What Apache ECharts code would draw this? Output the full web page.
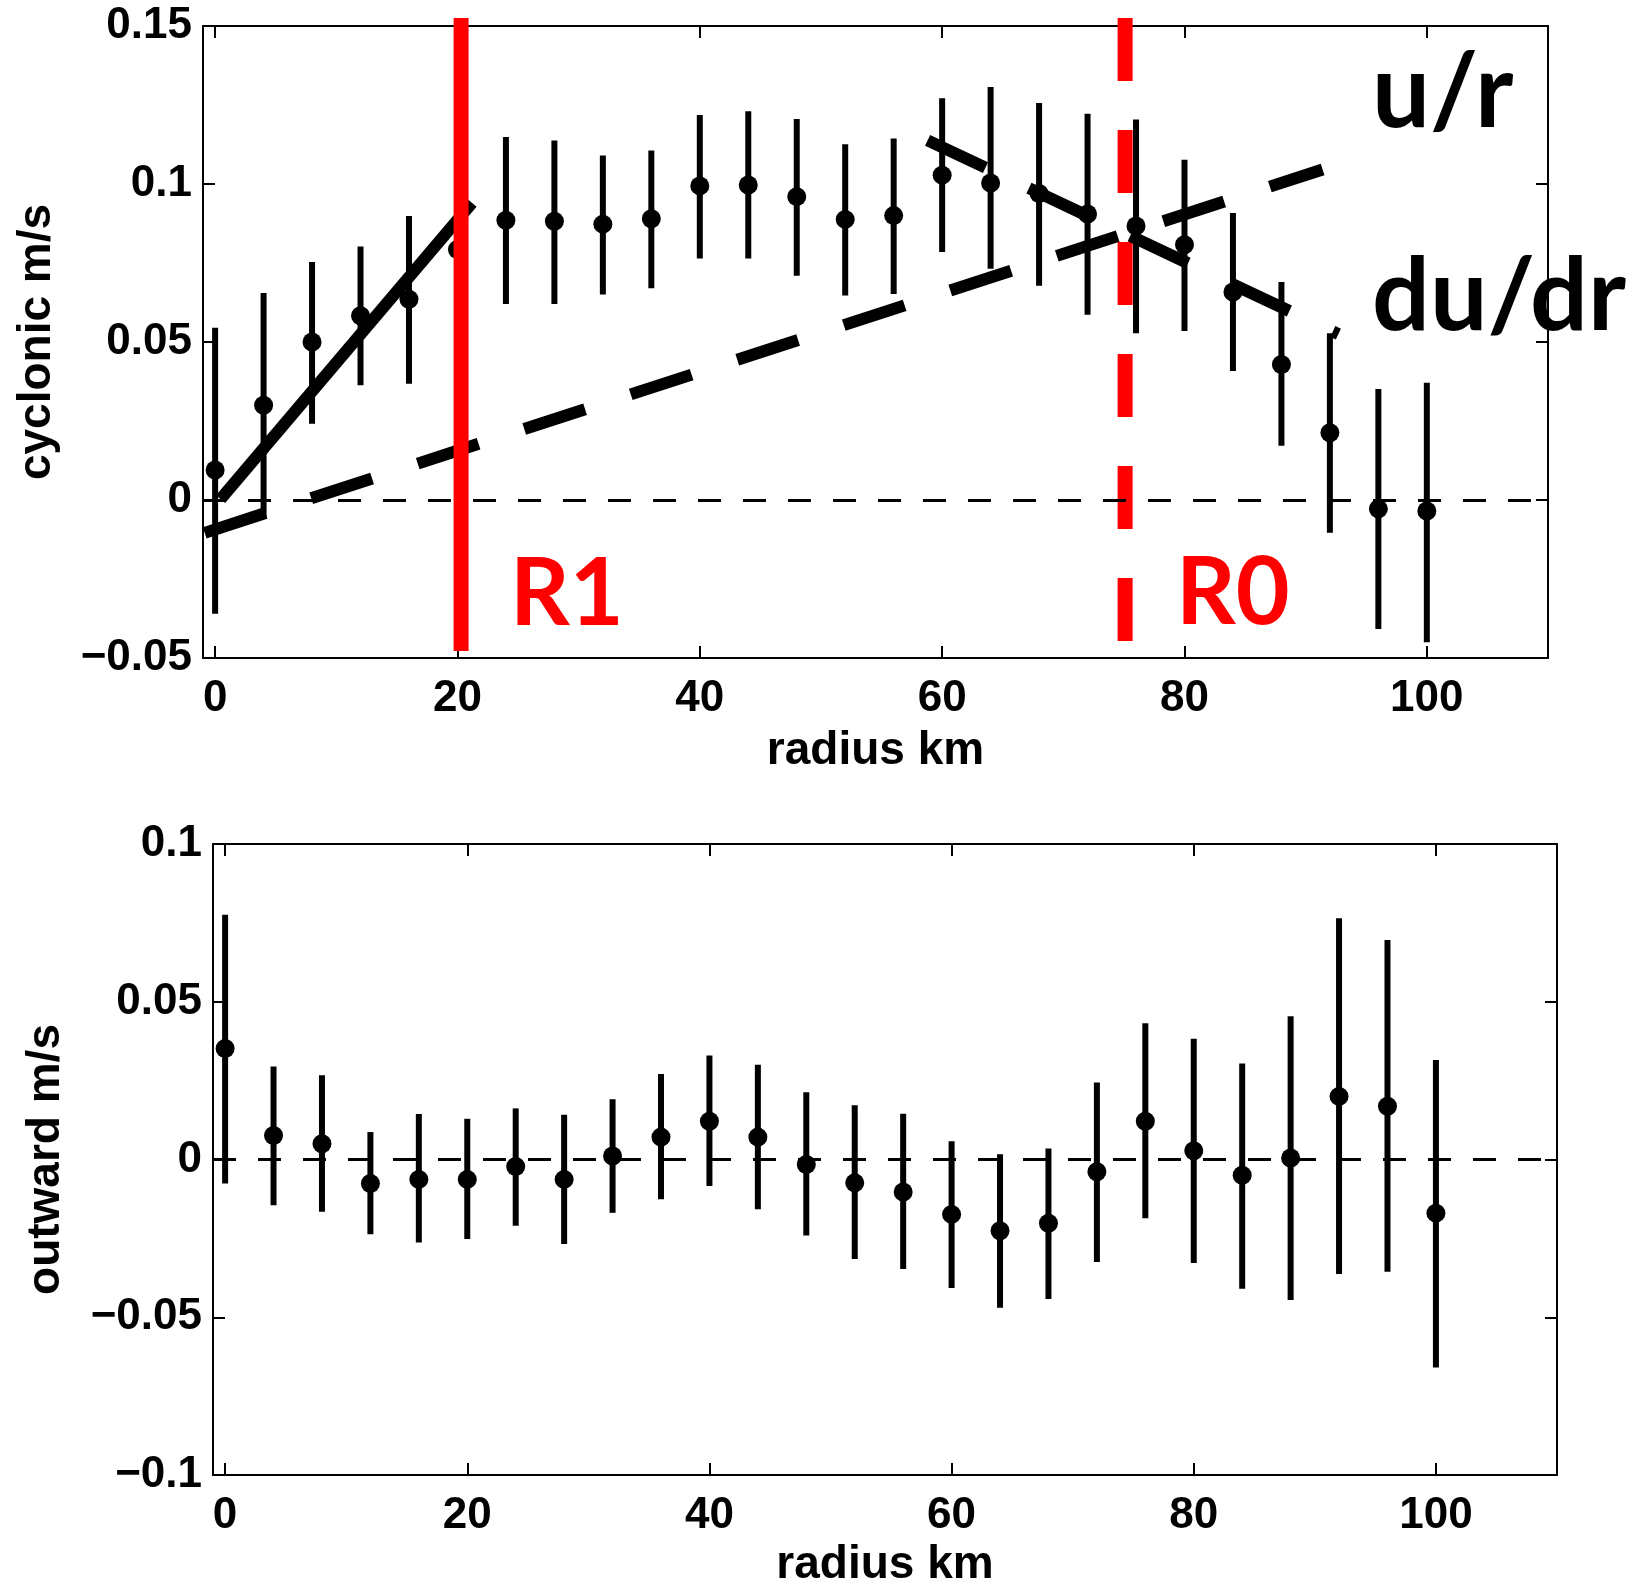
<!DOCTYPE html>
<html>
<head>
<meta charset="utf-8">
<script src="https://cdn.jsdelivr.net/npm/echarts@6/dist/echarts.min.js"></script>
<style>
  html, body { margin: 0; padding: 0; background: #ffffff; }
  #chart { width: 1629px; height: 1583px; }
</style>
</head>
<body>
<div id="chart"></div>
<script>
// Radial profiles: bin centres in km
const radiusKm = [0, 4, 8, 12, 16, 20, 24, 28, 32, 36, 40, 44, 48, 52, 56, 60, 64, 68, 72, 76, 80, 84, 88, 92, 96, 100];

// Cyclonic (azimuthal) velocity, m/s: mean and error-bar limits
const cyclonicMean = [0.0095, 0.0300, 0.0500, 0.0583, 0.0635, 0.0793, 0.0885, 0.0882, 0.0873, 0.0890, 0.0994, 0.0997, 0.0960,
                      0.0888, 0.0900, 0.1028, 0.1003, 0.0970, 0.0905, 0.0867, 0.0808, 0.0658, 0.0429, 0.0213, -0.0028, -0.0035];
const cyclonicLow  = [-0.0360, -0.0055, 0.0241, 0.0363, 0.0368, 0.0543, 0.0620, 0.0620, 0.0650, 0.0670, 0.0764, 0.0764, 0.0710,
                      0.0647, 0.0652, 0.0785, 0.0732, 0.0678, 0.0586, 0.0528, 0.0535, 0.0408, 0.0172, -0.0104, -0.0408, -0.0450];
const cyclonicHigh = [0.0545, 0.0655, 0.0753, 0.0802, 0.0899, 0.1043, 0.1149, 0.1138, 0.1090, 0.1106, 0.1218, 0.1230, 0.1206,
                      0.1126, 0.1144, 0.1271, 0.1307, 0.1256, 0.1222, 0.1204, 0.1077, 0.0908, 0.0690, 0.0528, 0.0351, 0.0371];

// Outward (radial) velocity, m/s: mean and error-bar limits
const outwardMean = [0.0352, 0.0076, 0.0050, -0.0076, -0.0063, -0.0063, -0.0022, -0.0063, 0.0011, 0.0071, 0.0121, 0.0071, -0.0016,
                     -0.0074, -0.0103, -0.0174, -0.0226, -0.0202, -0.0039, 0.0121, 0.0028, -0.0050, 0.0005, 0.0200, 0.0169, -0.0170];
const outwardLow   = [-0.0076, -0.0145, -0.0166, -0.0237, -0.0263, -0.0252, -0.0210, -0.0268, -0.0169, -0.0126, -0.0084, -0.0158, -0.0241,
                      -0.0315, -0.0347, -0.0407, -0.0470, -0.0442, -0.0325, -0.0186, -0.0328, -0.0410, -0.0445, -0.0363, -0.0356, -0.0659];
const outwardHigh  = [0.0776, 0.0295, 0.0267, 0.0087, 0.0144, 0.0129, 0.0162, 0.0142, 0.0191, 0.0271, 0.0330, 0.0300, 0.0213,
                      0.0172, 0.0145, 0.0058, 0.0017, 0.0035, 0.0244, 0.0432, 0.0383, 0.0304, 0.0454, 0.0765, 0.0696, 0.0315];

// Fitted profiles [radius km, m/s]
const innerFit = [[0.45, 0.0003], [21.2, 0.0940]];
const uOverR   = [[-0.86, -0.0104], [91.4, 0.1046]];
const duDr     = [[58.8, 0.1138], [92.7, 0.0525]];

// Characteristic radii (km) and the vertical extent of their markers (m/s)
const radiusR1 = 20.3;
const radiusR0 = 75.1;
const radiusMarkSpan = [0.1525, -0.0478];

// Axis ticks
const xTicks = [0, 20, 40, 60, 80, 100];
const topYTicks = [-0.05, 0, 0.05, 0.1, 0.15];
const bottomYTicks = [-0.1, -0.05, 0, 0.05, 0.1];

const AXIS_FONT = 'Liberation Sans';
const NOTE_FONT = 'Lato';

function fmtTick(v) {
  if (v === 0) return '0';
  return (v < 0 ? '\u2212' : '') + String(Math.abs(v));
}

const tickLabelStyle = { color: '#000', fontFamily: AXIS_FONT, fontWeight: 'bold', fontSize: 44 };
const nameStyle = { color: '#000', fontFamily: AXIS_FONT, fontWeight: 'bold', fontSize: 46 };
const frameLine = { show: true, onZero: false, lineStyle: { color: '#000', width: 2 } };

function xAxisPair(gridIndex, nameGap) {
  const common = {
    gridIndex, type: 'value', min: -1, max: 110,
    axisLine: frameLine,
    splitLine: { show: false },
    axisTick: { show: true, inside: true, length: 12, customValues: xTicks, lineStyle: { color: '#000', width: 2 } }
  };
  return [
    Object.assign({}, common, {
      position: 'bottom',
      axisLabel: { show: true, customValues: xTicks, margin: 19, formatter: fmtTick, ...tickLabelStyle },
      name: 'radius km', nameLocation: 'middle', nameGap, nameTextStyle: nameStyle
    }),
    Object.assign({}, common, { position: 'top', axisLabel: { show: false } })
  ];
}

function yAxisPair(gridIndex, min, max, ticks, name, nameGap) {
  const common = {
    gridIndex, type: 'value', min, max,
    axisLine: frameLine,
    splitLine: { show: false },
    axisTick: { show: true, inside: true, length: 12, customValues: ticks, lineStyle: { color: '#000', width: 2 } }
  };
  return [
    Object.assign({}, common, {
      position: 'left',
      axisLabel: { show: true, customValues: ticks, margin: 11, formatter: fmtTick, ...tickLabelStyle },
      name, nameLocation: 'middle', nameGap, nameRotate: 90, nameTextStyle: nameStyle
    }),
    Object.assign({}, common, { position: 'right', axisLabel: { show: false } })
  ];
}

function errorBarItem(params, api) {
  const x = api.value(0);
  const p1 = api.coord([x, api.value(1)]);
  const p2 = api.coord([x, api.value(2)]);
  return {
    type: 'line',
    shape: { x1: p1[0], y1: p1[1], x2: p2[0], y2: p2[1] },
    style: { stroke: '#000', lineWidth: 6 }
  };
}

function zeroLine() {
  return {
    silent: true, symbol: 'none', label: { show: false },
    lineStyle: { color: '#000', width: 3, type: [23, 22], opacity: 1 },
    data: [{ yAxis: 0 }]
  };
}

function thickLine(points, axisIdx, opts) {
  return Object.assign({
    type: 'line', xAxisIndex: axisIdx, yAxisIndex: axisIdx,
    data: points, showSymbol: false, symbol: 'none', silent: true, animation: false,
    lineStyle: { color: '#000', width: 12, cap: 'butt' }
  }, opts);
}

const cycBars = radiusKm.map((r, i) => [r, cyclonicLow[i], cyclonicHigh[i]]);
const cycPts  = radiusKm.map((r, i) => [r, cyclonicMean[i]]);
const outBars = radiusKm.map((r, i) => [r, outwardLow[i], outwardHigh[i]]);
const outPts  = radiusKm.map((r, i) => [r, outwardMean[i]]);

const dotStyle = { color: '#000', opacity: 1 };

const option = {
  animation: false,
  backgroundColor: '#ffffff',
  grid: [
    { left: 203, top: 26, width: 1345, height: 632, outerBoundsMode: 'none', containLabel: false },
    { left: 213, top: 844, width: 1344, height: 631, outerBoundsMode: 'none', containLabel: false }
  ],
  xAxis: [...xAxisPair(0, 70), ...xAxisPair(1, 67)],
  yAxis: [
    ...yAxisPair(0, -0.05, 0.15, topYTicks, 'cyclonic m/s', 143),
    ...yAxisPair(1, -0.1, 0.1, bottomYTicks, 'outward m/s', 144)
  ],
  series: [
    // upper panel
    {
      type: 'custom', xAxisIndex: 0, yAxisIndex: 0, z: 2,
      renderItem: errorBarItem, encode: { x: 0, y: [1, 2] }, data: cycBars, silent: true
    },
    {
      type: 'scatter', xAxisIndex: 0, yAxisIndex: 0, z: 3,
      symbol: 'circle', symbolSize: 19, itemStyle: dotStyle, data: cycPts, silent: true,
      markLine: zeroLine()
    },
    thickLine([[radiusR0, radiusMarkSpan[0]], [radiusR0, radiusMarkSpan[1]]], 0, {
      z: 2.5, clip: false, lineStyle: { color: '#ff0000', width: 15, type: [63, 49], cap: 'butt' }
    }),
    thickLine(innerFit, 0, { z: 4 }),
    thickLine(uOverR, 0, { z: 4, lineStyle: { color: '#000', width: 12, type: [64, 48], cap: 'butt' } }),
    thickLine(duDr, 0, { z: 4, lineStyle: { color: '#000', width: 12, type: [64, 48], cap: 'butt' } }),
    thickLine([[radiusR1, radiusMarkSpan[0]], [radiusR1, radiusMarkSpan[1]]], 0, {
      z: 5, clip: false, lineStyle: { color: '#ff0000', width: 15, cap: 'butt' }
    }),
    // lower panel
    {
      type: 'custom', xAxisIndex: 2, yAxisIndex: 2, z: 2,
      renderItem: errorBarItem, encode: { x: 0, y: [1, 2] }, data: outBars, silent: true
    },
    {
      type: 'scatter', xAxisIndex: 2, yAxisIndex: 2, z: 3,
      symbol: 'circle', symbolSize: 19, itemStyle: dotStyle, data: outPts, silent: true,
      markLine: zeroLine()
    }
  ],
  graphic: [
    { type: 'text', left: 1372, top: 42, z: 10, style: { text: 'u/r', fill: '#000', font: 'bold 103px ' + NOTE_FONT } },
    { type: 'text', left: 1372, top: 246, z: 10, style: { text: 'du/dr', fill: '#000', font: 'bold 102px ' + NOTE_FONT } },
    { type: 'text', left: 510, top: 548, z: 10, style: { text: 'R1', fill: '#ff0000', font: 'bold 93px ' + NOTE_FONT } },
    { type: 'text', left: 1176, top: 547, z: 10, style: { text: 'R0', fill: '#ff0000', font: 'bold 93px ' + NOTE_FONT } }
  ]
};

const chart = echarts.init(document.getElementById('chart'), null, { renderer: 'canvas' });
chart.setOption(option);
</script>
</body>
</html>
